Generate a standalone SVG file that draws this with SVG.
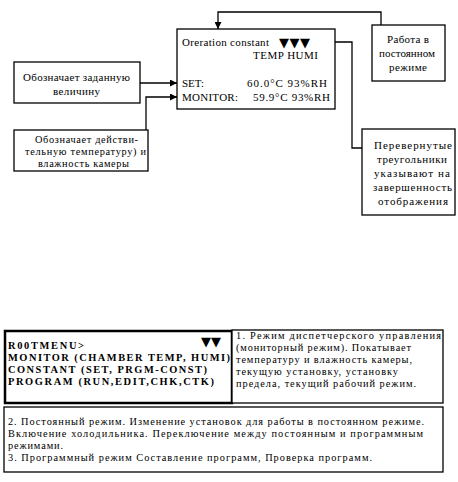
<svg xmlns="http://www.w3.org/2000/svg" width="458" height="482" viewBox="0 0 458 482">
<style>
.box{fill:#fff;stroke:#000;stroke-width:1.3}
.thick{fill:#fff;stroke:#000;stroke-width:2.5}
text{font-family:'Liberation Serif','Times New Roman',serif;font-size:11px;fill:#000}
.s{font-size:10.3px}
.b{font-weight:bold;font-size:10.4px}
text.tri{font-family:'DejaVu Sans',sans-serif;font-size:13px}
.ln{fill:none;stroke:#000;stroke-width:1.3}
</style>
<defs>
<marker id="ah" viewBox="0 0 10 10" refX="10" refY="5" markerWidth="9" markerHeight="7" markerUnits="userSpaceOnUse" orient="auto">
<path d="M0,0 L10,5 L0,10 Z" fill="#000"/>
</marker>
</defs>
<rect width="458" height="482" fill="#fff"/>

<g id="connectors">
<path class="ln" d="M381,25 V12 H218 V29" marker-end="url(#ah)"/>
<path class="ln" d="M362,148 H352 V42 H322" marker-end="url(#ah)"/>
<path class="ln" d="M140,83 H177" marker-end="url(#ah)"/>
<path class="ln" d="M146,130 V97 H177" marker-end="url(#ah)"/>
</g>

<g id="display">
<rect class="box" x="177" y="29" width="158" height="80"/>
<text x="182" y="46" textLength="87">Oreration constant</text>
<text class="tri" x="279" y="47" letter-spacing="0.5">▼▼▼</text>
<text x="253" y="59" textLength="65">TEMP  HUMI</text>
<text x="182" y="87">SET:</text>
<text x="247" y="87" textLength="80">60.0°C 93%RH</text>
<text x="182" y="101" textLength="56">MONITOR:</text>
<text x="253" y="101" textLength="77">59.9°C 93%RH</text>
</g>

<g id="const-mode">
<rect class="box" x="372" y="25" width="73" height="56"/>
<text x="387" y="43" textLength="42">Работа в</text>
<text x="379" y="57" textLength="56">постоянном</text>
<text x="389" y="71" textLength="38">режиме</text>
</g>

<g id="set-label">
<rect class="box" x="14" y="62" width="126" height="41"/>
<text x="23" y="81" textLength="107">Обозначает заданную</text>
<text x="53" y="95" textLength="47">величину</text>
</g>

<g id="monitor-label">
<rect class="box" x="14" y="130" width="134" height="41"/>
<text class="s" x="35" y="143" textLength="103">Обозначает действи-</text>
<text class="s" x="25" y="155" textLength="121">тельную температуру) и</text>
<text class="s" x="38" y="167" textLength="91">влажность камеры</text>
</g>

<g id="triangles-label">
<rect class="box" x="362" y="129" width="93" height="86"/>
<text x="374" y="149" textLength="78">Перевернутые</text>
<text x="377" y="163" textLength="70">треугольники</text>
<text x="374" y="177" textLength="76">указывают на</text>
<text x="373" y="191" textLength="79">завершенность</text>
<text x="378" y="205" textLength="70">отображения</text>
</g>

<g id="root-menu">
<rect class="thick" x="5" y="331" width="227" height="72"/>
<text class="tri" x="201" y="346" font-size="10">▼▼</text>
<text class="b" x="8" y="349" textLength="76">R00TMENU&gt;</text>
<text class="b" x="8" y="361" textLength="222">MONITOR (CHAMBER TEMP, HUMI)</text>
<text class="b" x="8" y="373" textLength="199">CONSTANT (SET, PRGM-CONST)</text>
<text class="b" x="8" y="385" textLength="206">PROGRAM (RUN,EDIT,CHK,CTK)</text>
</g>

<g id="monitor-desc">
<rect class="box" x="232" y="330" width="211" height="73"/>
<text class="s" x="236" y="339" textLength="205">1. Режим диспетчерского управления</text>
<text class="s" x="236" y="351" textLength="175">(мониторный режим). Покатывает</text>
<text class="s" x="236" y="363" textLength="176">температуру и влажность камеры,</text>
<text class="s" x="236" y="375" textLength="162">текущую установку, установку</text>
<text class="s" x="236" y="387" textLength="180">предела, текущий рабочий режим.</text>
</g>

<g id="modes-desc">
<rect class="box" x="4" y="407" width="439" height="65"/>
<text class="s" x="8" y="425" textLength="416">2. Постоянный режим. Изменение установок для работы в постоянном режиме.</text>
<text class="s" x="8" y="437" textLength="415">Включение холодильника. Переключение между постоянным и программным</text>
<text class="s" x="8" y="449" textLength="55">режимами.</text>
<text class="s" x="8" y="461" textLength="364">3. Программный режим Составление программ, Проверка программ.</text>
</g>
</svg>
